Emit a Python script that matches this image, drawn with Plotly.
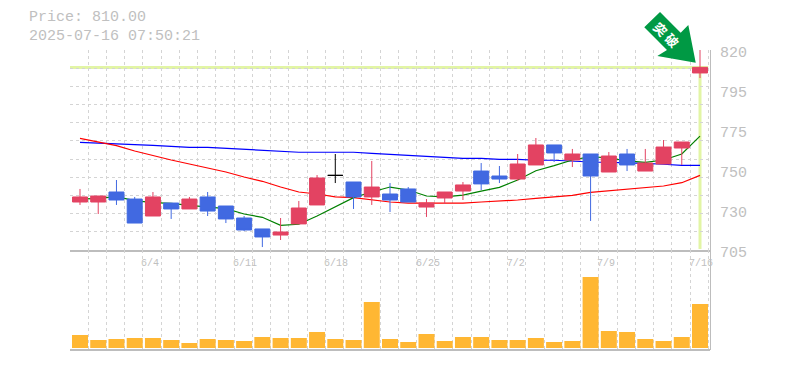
import plotly.graph_objects as go

idx = list(range(35))
opens = [732.6,732.6,738.35,734.3,724.55,732,728.6,735.5,730.3,723.4,717.1,713.6,720,730.9,747.9,744.1,735.5,737.2,740.1,729.7,734.9,738.9,750.4,747.55,745.8,753.9,765.4,756.75,760.2,749.85,760.2,750.4,754.45,763.65,806.8]
closes = [735.5,736.05,733.75,720.5,735.5,728.6,734.3,727.4,722.85,716.5,712.5,715.35,729.15,746.4,747.9,735.5,741.2,733.75,732.6,732,738.35,742.4,743,745.8,754.45,765.4,760.8,760.2,747.55,759.05,753.9,755,764.2,767.1,810]
highs = [740.1,736.05,745.25,735.5,738.35,732,735.5,738.35,730.3,724.55,717.1,723.4,733.2,748.1,760.2,744.1,756.2,743.5,741.2,734.3,738.35,744.1,755,753.3,760.2,769.4,765.4,763.1,760.2,761.35,763.1,763.1,768.25,767.1,820]
lows = [730.9,725.7,730.9,720.5,724.55,722.85,728.6,724.55,720.5,715.9,706.7,710.75,720,730.9,743.5,728.6,730.9,726.85,732.6,724,731.45,733.75,739.5,743.5,744.7,753.9,755.6,752.7,721.7,749.85,750.4,750.4,754.45,753.9,803.9]
ma_blue = [766.9,766.5,766.3,765.8,765.2,764.6,764,764,763.5,762.9,762.3,761.7,761.2,761.2,761.2,761.2,760.6,760,759.4,758.9,758.3,757.7,757.7,757.1,757.1,756.6,756.6,756,755.6,755.4,755.2,754.8,754.3,753.7,753.7]
ma_red = [769.2,766.9,765,761.9,759.2,756.75,754.45,752.15,749.85,747,744.5,741.2,738.35,737.2,735.5,735.1,733.75,732.6,732,732,732,732,732.6,733,733.75,734.7,735.5,736.4,738.15,739.1,740.1,741,741.8,743.7,747.9]
ma_green = [734.3,734.7,735.7,733.4,732.2,731.8,730.7,729.9,728.8,725.7,723.8,719.2,719.8,724.55,729.9,735.1,738.35,741.2,739.5,736.05,735.5,736.6,738.9,741,745.25,750.6,753.5,756.75,758.7,757.9,756.2,755.4,756.75,760.2,770.5]
volume = [13,8,9,10,10,8,5,9,8,7,11,10,10,16,9,8,46,9,6,14,7,11,11,8,8,10,6,7,71,17,16,9,7,11,44]
x_tick_pos = [3.84,9.05,14.04,19.08,23.9,28.84,34.05]
x_tick_labels = ["6/4","6/11","6/18","6/25","7/2","7/9","7/16"]
y_tick_pos = [818.85,795.85,772.85,749.85,726.85]
y_tick_labels = ["820","795","775","750","730"]
vol_tick_pos = [96]
vol_tick_labels = ["705"]
price = 810
title_lines = ["Price: 810.00", "2025-07-16 07:50:21"]
doji = 14

RED, BLUE = "#E34362", "#4169E1"
GRID, AXIS, TXT = "#d4d4d4", "#bdbdbd", "#c0c0c0"
MONO = "Liberation Mono"
XR = [-0.548, 34.548]
YR = [705, 820]

def px(x, y):
    return (x - 70) / 640, (350 - y) / 300

arrow = [(660, 12), (644.3, 27.3), (667, 50), (657.3, 56), (695.7, 62.7), (688.3, 25), (680.7, 32.7)]
arrow_path = "M" + " L".join("%.4f,%.4f" % px(*p) for p in arrow) + " Z"

keep = [i for i in idx if i != doji]
pick = lambda a: [a[i] for i in keep]

fig = go.Figure()
for vals, col in ((ma_blue, "#0000FF"), (ma_red, "#FF0000"), (ma_green, "#008000")):
    fig.add_trace(go.Scatter(x=idx, y=vals, mode="lines", line=dict(color=col, width=1.2), showlegend=False, yaxis="y"))
fig.add_trace(go.Bar(x=idx, y=volume, marker=dict(color="#FFB733", line_width=0), yaxis="y2", showlegend=False))
fig.add_trace(go.Candlestick(x=keep, open=pick(opens), high=pick(highs), low=pick(lows), close=pick(closes), yaxis="y3",
    increasing=dict(line=dict(color=RED, width=1), fillcolor=RED),
    decreasing=dict(line=dict(color=BLUE, width=1), fillcolor=BLUE),
    whiskerwidth=0, showlegend=False))
fig.add_trace(go.Candlestick(x=[doji], open=[opens[doji]], high=[highs[doji]], low=[lows[doji]], close=[closes[doji]], yaxis="y3",
    increasing=dict(line=dict(color="#000000", width=1), fillcolor="#000000"),
    decreasing=dict(line=dict(color="#000000", width=1), fillcolor="#000000"),
    whiskerwidth=0, showlegend=False))

shapes = [
    dict(type="line", xref="x", yref="y", x0=XR[0], x1=34.45, y0=price, y1=price, line=dict(color="#E2F5A5", width=3), layer="below"),
    dict(type="line", xref="x", yref="y", x0=34, x1=34, y0=705.6, y1=price, line=dict(color="#E2F5A5", width=3), layer="below"),
    dict(type="line", xref="paper", yref="paper", x0=0, x1=1, y0=0, y1=0, line=dict(color=AXIS, width=2), layer="above"),
    dict(type="path", xref="paper", yref="paper", path=arrow_path, fillcolor="#009944", line=dict(width=0), layer="above"),
]
def note(text, x, y, **kw):
    ax, ay = px(x, y)
    return dict(text=text, x=ax, y=ay, xref="paper", yref="paper", showarrow=False, **kw)
annotations = [
    note(title_lines[0], 28, 18, xanchor="left", yanchor="middle", borderpad=0, font=dict(family=MONO, size=15, color=TXT)),
    note(title_lines[1], 28, 36, xanchor="left", yanchor="middle", borderpad=0, font=dict(family=MONO, size=15, color=TXT)),
    note("突 破", 666.5, 34.5, xanchor="center", yanchor="middle", textangle=45,
         font=dict(family="Noto Sans CJK JP", size=13, color="#ffffff", weight=700)),
]
fig.update_layout(
    width=769, height=354, autosize=False,
    margin=dict(l=62, r=67, t=42, b=12),
    paper_bgcolor="white", plot_bgcolor="white",
    showlegend=False, barmode="overlay", bargap=0.123,
    boxgap=0.178, boxgroupgap=0, boxmode="overlay",
    shapes=shapes, annotations=annotations,
    xaxis=dict(range=XR, anchor="y", domain=[0, 1], showgrid=False, zeroline=False,
        tickmode="array", tickvals=x_tick_pos, ticktext=x_tick_labels, ticks="",
        ticklabelstandoff=2, tickfont=dict(family=MONO, size=10, color=TXT),
        showline=True, linecolor=AXIS, linewidth=2,
        rangeslider=dict(visible=False),
        minor=dict(tick0=XR[0], dtick=1, showgrid=True, gridcolor=GRID, griddash="3px,3px", gridwidth=1, ticks="")),
    yaxis=dict(domain=[1/3, 1], range=YR, anchor="x", side="right", showgrid=False, zeroline=False,
        tickmode="array", tickvals=y_tick_pos, ticktext=y_tick_labels, ticks="",
        ticklabelstandoff=6, tickfont=dict(family=MONO, size=15, color=TXT),
        showline=True, linecolor=AXIS, linewidth=1,
        minor=dict(tick0=705, dtick=115/11, showgrid=True, gridcolor=GRID, griddash="3px,3px", gridwidth=1, ticks="")),
    yaxis2=dict(domain=[0, 1/3], range=[-2, 98], anchor="x", side="right", showgrid=False, zeroline=False,
        tickmode="array", tickvals=vol_tick_pos, ticktext=vol_tick_labels, ticks="",
        ticklabelstandoff=6, tickfont=dict(family=MONO, size=15, color=TXT),
        showline=True, linecolor=AXIS, linewidth=1),
    yaxis3=dict(overlaying="y", range=YR, anchor="x", side="right", visible=False),
)
fig.write_html("out.html")
